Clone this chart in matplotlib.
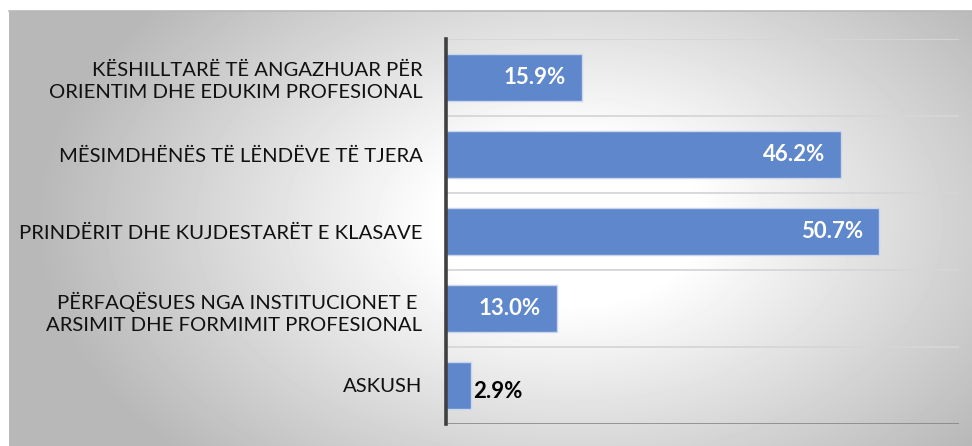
import numpy as np
import matplotlib.pyplot as plt

# data
categories = ["KËSHILLTARË TË ANGAZHUAR PËR\nORIENTIM DHE EDUKIM PROFESIONAL",
              "MËSIMDHËNËS TË LËNDËVE TË TJERA",
              "PRINDËRIT DHE KUJDESTARËT E KLASAVE",
              "PËRFAQËSUES NGA INSTITUCIONET E \nARSIMIT DHE FORMIMIT PROFESIONAL",
              "ASKUSH"]
values = [15.9, 46.2, 50.7, 13.0, 2.9]
value_labels = ["15.9%", "46.2%", "50.7%", "13.0%", "2.9%"]

W, H = 972, 446
fig = plt.figure(figsize=(W / 100, H / 100), dpi=100)
fig.patch.set_facecolor("white")

# radial gradient background box
bg = fig.add_axes([9 / W, 0, 1 - 9 / W, (H - 11) / H])
yy, xx = np.mgrid[0:435, 0:963]
cx, cy = 560, 210
r = np.sqrt(((xx - cx) / 520.0) ** 2 + ((yy - cy) / 330.0) ** 2)
shade = 1.0 - 0.27 * np.clip(r - 0.25, 0, 1) / 0.75
shade = np.clip(shade, 0.72, 1.0)
bg.imshow(shade, cmap="gray", vmin=0, vmax=1, aspect="auto", interpolation="bilinear")
bg.axis("off")
fig.add_artist(plt.Line2D([9 / W, 1], [(H - 11) / H] * 2, color="#b8b8b8", lw=1.2))

ax = fig.add_axes([446 / W, 1 - 424 / H, (959 - 446) / W, (424 - 39) / H])
ax.set_facecolor("none")

y = np.arange(len(categories))
ax.barh(y, values, height=0.6, color="#5f87cb", edgecolor="#c9d6ee", linewidth=1, zorder=3)
ax.set_xlim(0, 60)
ax.set_ylim(len(categories) - 0.5, -0.5)

# separator lines between categories
for b in np.arange(-0.5, len(categories) - 0.5, 1.0):
    ax.axhline(b, color="#d6d6d6", lw=1.3, zorder=1)
ax.axhline(len(categories) - 0.5, color="#7f7f7f", lw=1.8, zorder=4)

ax.set_xticks([])
ax.set_yticks(y)
ax.set_yticklabels(categories, family=["Lato", "DejaVu Sans"], fontsize=14.6,
                   color="#111111", linespacing=1.38)
ax.tick_params(axis="y", length=0, pad=17)
for s in ["top", "right", "bottom"]:
    ax.spines[s].set_visible(False)
ax.spines["left"].set_color("#404040")
ax.spines["left"].set_linewidth(2.6)
ax.spines["left"].set_zorder(5)

for i in range(len(values)):
    if values[i] > 5:
        ax.text(values[i] - 1.9, y[i], value_labels[i], ha="right", va="center",
                color="white", fontsize=16, fontweight="bold", family="Lato", zorder=6)
    else:
        ax.text(values[i] + 0.3, y[i] + 0.08, value_labels[i], ha="left", va="center",
                color="black", fontsize=16, fontweight="bold", family="Lato", zorder=6)

fig.savefig("out.png", dpi=100)
